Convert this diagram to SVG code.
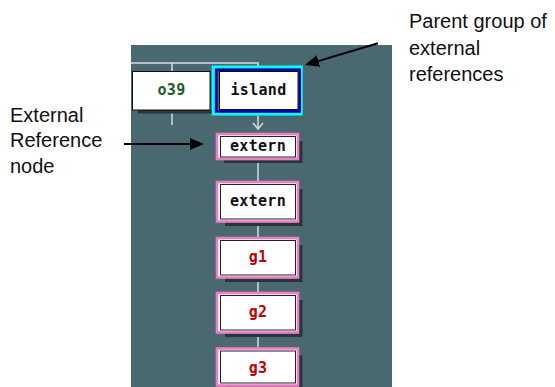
<svg xmlns="http://www.w3.org/2000/svg" width="555" height="387" viewBox="0 0 555 387">
<style>
.ann{font-family:"Liberation Sans",Arial,sans-serif;font-size:20px;fill:#111}
.lbl{font-family:"DejaVu Sans Mono","Liberation Mono",monospace;font-size:15px;font-weight:bold;text-anchor:middle;letter-spacing:0.3px}
.conn{stroke:#d6dcdc;stroke-width:1.5;fill:none}
.pink{fill:#fff;stroke:#f07cc6;stroke-width:2.6}
.inner{fill:none;stroke:#222;stroke-width:1}
.shadow{fill:#27363b}
.arr{stroke:#000;stroke-width:2;fill:none}
</style>
<defs>
<marker id="ah" viewBox="0 0 14 12" refX="10" refY="6" markerWidth="14" markerHeight="12" orient="auto" markerUnits="userSpaceOnUse">
<path d="M0,0 L14,6 L0,12 Z" fill="#000"/>
</marker>
</defs>
<rect id="panel" x="131" y="45" width="261" height="342" fill="#4a6870"/>
<g id="connectors">
<path class="conn" d="M131,63 H258 V66"/>
<path class="conn" d="M172,63 V72"/>
<path class="conn" d="M172,110 V125"/>
<path class="conn" d="M258,115.5 V129"/>
<path class="conn" d="M253,123 L258,129 L263,123"/>
<path class="conn" d="M258,160 V181"/>
<path class="conn" d="M258,222.5 V237"/>
<path class="conn" d="M258,278.5 V292"/>
<path class="conn" d="M258,333.5 V347.5"/>
</g>
<g id="node-o39">
<path class="shadow" d="M138,110 H213 V113.5 H138 Z"/>
<rect x="132.5" y="71.5" width="77.5" height="38.5" fill="#fff" stroke="#111" stroke-width="1"/>
<text class="lbl" x="171.5" y="95" fill="#1b5e2c">o39</text>
</g>
<g id="node-island">
<rect x="213.2" y="67" width="88" height="47" fill="none" stroke="#00ffff" stroke-width="3"/>
<rect x="216.3" y="69.8" width="83.4" height="41.6" fill="none" stroke="#0000b0" stroke-width="2.6"/>
<rect x="219.5" y="71.5" width="78.5" height="38" fill="#fff" stroke="#111" stroke-width="1"/>
<text class="lbl" x="258.5" y="94.5" fill="#111">island</text>
</g>
<g id="node-extern1">
<path class="shadow" d="M299,141 H302.5 V163 H224 V160 H299 Z"/>
<rect class="pink" x="217" y="134" width="81" height="25"/>
<rect class="inner" x="220.5" y="136.5" width="75" height="20.5"/>
<text class="lbl" x="258" y="151" fill="#111">extern</text>
</g>
<g id="node-extern2">
<path class="shadow" d="M299,189 H302.5 V226 H225 V222.5 H299 Z"/>
<rect class="pink" x="217" y="182" width="81" height="39.5"/>
<rect class="inner" x="220.5" y="184.5" width="75" height="34.5"/>
<text class="lbl" x="258" y="205.8" fill="#111">extern</text>
</g>
<g id="node-g1">
<path class="shadow" d="M299,245 H302.5 V282 H225 V278.5 H299 Z"/>
<rect class="pink" x="217" y="238" width="81" height="39.5"/>
<rect class="inner" x="220.5" y="240.5" width="75" height="34.5"/>
<text class="lbl" x="258" y="262" fill="#c00000">g1</text>
</g>
<g id="node-g2">
<path class="shadow" d="M299,300 H302.5 V337 H225 V333.5 H299 Z"/>
<rect class="pink" x="217" y="293" width="81" height="39.5"/>
<rect class="inner" x="220.5" y="295.5" width="75" height="34.5"/>
<text class="lbl" x="258" y="317" fill="#c00000">g2</text>
</g>
<g id="node-g3">
<path class="shadow" d="M299,355.5 H302.5 V390 H225 V386 H299 Z"/>
<rect class="pink" x="217" y="348.5" width="81" height="37"/>
<rect class="inner" x="220.5" y="351" width="75" height="32"/>
<text class="lbl" x="258" y="372.5" fill="#c00000">g3</text>
</g>
<g id="annotations">
<text class="ann" x="409" y="28">Parent group of</text>
<text class="ann" x="409" y="54.5">external</text>
<text class="ann" x="409" y="80.5">references</text>
<line class="arr" x1="378" y1="43.3" x2="308.8" y2="63.9" marker-end="url(#ah)"/>
<text class="ann" x="10" y="121.5">External</text>
<text class="ann" x="10" y="147">Reference</text>
<text class="ann" x="10" y="172.5">node</text>
<line class="arr" x1="124" y1="144" x2="200" y2="144" marker-end="url(#ah)"/>
</g>
</svg>
